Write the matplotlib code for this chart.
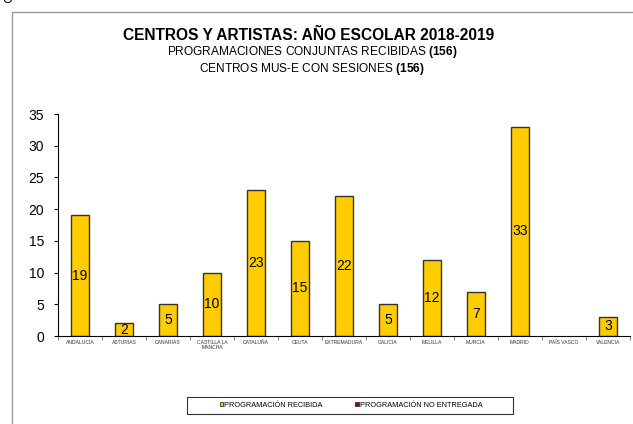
import matplotlib.pyplot as plt
from matplotlib.patches import Rectangle, Patch
import numpy as np

plt.rcParams['font.family'] = ['Liberation Sans', 'DejaVu Sans']
plt.rcParams['mathtext.fontset'] = 'custom'
plt.rcParams['mathtext.rm'] = 'Liberation Sans'
plt.rcParams['mathtext.bf'] = 'Liberation Sans:bold'

regiones = ["ANDALUCÍA", "ASTURIAS", "CANARIAS", "CASTILLA LA\nMANCHA", "CATALUÑA",
            "CEUTA", "EXTREMADURA", "GALICIA", "MELILLA", "MURCIA", "MADRID",
            "PAÍS VASCO", "VALENCIA"]
recibidas = [19, 2, 5, 10, 23, 15, 22, 5, 12, 7, 33, 0, 3]
no_entregadas = [0, 0, 0, 0, 0, 0, 0, 0, 0, 0, 0, 0, 0]

fig = plt.figure(figsize=(6.33, 4.24), dpi=100)
W, H = 633, 424

# marco exterior (recortado)
fig.patches.append(Rectangle((12 / W, -0.1), 1.0, (H - 12) / H + 0.1,
                             transform=fig.transFigure, fill=False,
                             edgecolor='#9a9a9a', linewidth=1.0))
fig.text(2 / W, 1.0, "O", fontsize=9, va='center', ha='left')

ax = fig.add_axes([58 / W, (H - 336) / H, (630 - 58) / W, (336 - 114) / H])
x = np.arange(len(regiones))
lw = [1.0 if v > 0 else 0 for v in recibidas]
ax.bar(x, recibidas, width=0.41, color='#FFCC00', edgecolor='#333333',
       linewidth=lw)
lw2 = [1.0 if v > 0 else 0 for v in no_entregadas]
ax.bar(x, no_entregadas, bottom=recibidas, width=0.41, color='#800040',
       edgecolor='#333333', linewidth=lw2)

for xi, v in zip(x, recibidas):
    if v > 0:
        ax.text(xi, v / 2, str(v), ha='center', va='center', fontsize=10)

ax.set_xlim(-0.5, len(regiones) - 0.5)
ax.set_ylim(0, 35)
ax.set_yticks(range(0, 36, 5))
ax.tick_params(axis='y', labelsize=10, length=3, direction='out', pad=7)
ax.set_xticks(x)
ax.set_xticklabels(regiones, fontsize=3.6, color='#333333', linespacing=0.9)
ax.tick_params(axis='x', which='major', length=0, pad=3)
ax.set_xticks(np.arange(-0.5, len(regiones), 1), minor=True)
ax.tick_params(axis='x', which='minor', length=3, color='#777777')
for s in ['top', 'right']:
    ax.spines[s].set_visible(False)

fig.text(309 / W, 1 - 36 / H, "CENTROS Y ARTISTAS: AÑO ESCOLAR 2018-2019",
         ha='center', va='center', fontsize=11.2, fontweight='bold')
fig.text(312 / W, 1 - 52 / H, "PROGRAMACIONES CONJUNTAS RECIBIDAS $\\mathbf{(156)}$",
         ha='center', va='center', fontsize=8.6)
fig.text(312 / W, 1 - 69 / H, "CENTROS MUS-E CON SESIONES $\\mathbf{(156)}$",
         ha='center', va='center', fontsize=8.6)

# leyenda
fig.patches.append(Rectangle((187 / W, 1 - 414 / H), (513 - 187) / W, 17 / H,
                             transform=fig.transFigure, fill=False,
                             edgecolor='#333333', linewidth=0.8))
handles = [Patch(facecolor='#FFCC00', edgecolor='#333333', linewidth=0.6),
           Patch(facecolor='#800040', edgecolor='#333333', linewidth=0.6)]
fig.legend(handles, ['PROGRAMACIÓN RECIBIDA', 'PROGRAMACIÓN NO ENTREGADA'],
           loc='center', bbox_to_anchor=(351 / W, 1 - 405.5 / H), ncol=2,
           fontsize=5.3, frameon=False, handlelength=0.5,
           handleheight=0.5, handletextpad=0.1, columnspacing=4.5)

fig.savefig('out.png', dpi=100)
